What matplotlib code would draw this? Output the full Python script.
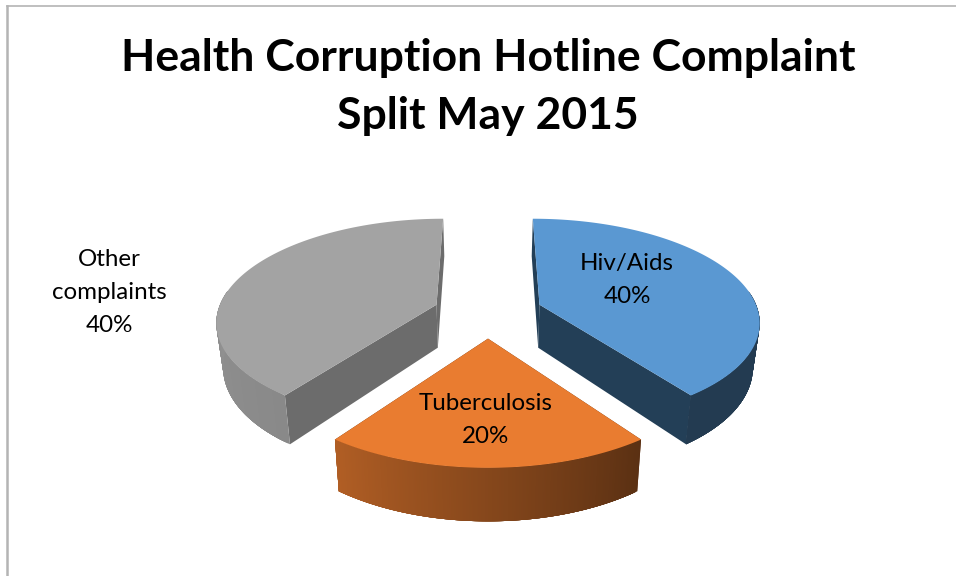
import numpy as np
import matplotlib.pyplot as plt

plt.rcParams["font.family"] = ["Lato", "DejaVu Sans"]

# Chart data (slices go clockwise from 12 o'clock)
categories = ["Hiv/Aids", "Tuberculosis", "Other\ncomplaints"]
shares = [40, 20, 40]

colors = ["#5A98D2", "#E97C30", "#A3A3A3"]
face_colors = ["#233F57", "#5B2E11", "#6C6C6C"]
# wall brightness at the start and end of each slice's outer arc
wall_shade = [(0.385, 0.385), (0.39, 0.76), (0.84, 0.97)]
label_pos = [(627, 280), (486, 420), (109, 292.5)]

# Fake 3D camera, in pixels
CX, CY = 488, 312.4
SCALE_X, SCALE_Y = 219, 101
PERSP = 0.15
EXPLODE = 0.25
DEPTH = 43.5
BASE_SHRINK = 0.975


def project(px, py, base=False):
    w = 1 + PERSP * py
    x = SCALE_X * px / w
    y = -SCALE_Y * py / w
    if base:
        return CX + x * BASE_SHRINK, CY + y + DEPTH / w
    return CX + x, CY + y


def shade(color, factor):
    rgb = np.array(plt.matplotlib.colors.to_rgb(color))
    return tuple(rgb * factor)


def draw_slice(ax, start, end, color, face_color, shades):
    mid = (start + end) / 2
    ox, oy = EXPLODE * np.sin(mid), EXPLODE * np.cos(mid)
    theta = np.linspace(start, end, 240)
    arc_x = ox + np.sin(theta)
    arc_y = oy + np.cos(theta)

    # radial cut faces first, they end up behind everything else
    for t in (start, end):
        px = np.array([ox, ox + np.sin(t)])
        py = np.array([oy, oy + np.cos(t)])
        tx, ty = project(px, py)
        bx, by = project(px, py, base=True)
        ax.fill(np.r_[tx, bx[::-1]], np.r_[ty, by[::-1]], color=face_color, lw=0, zorder=1)

    # outer wall, cut in strips to get the gradient; strips overlap so no seams show
    tx, ty = project(arc_x, arc_y)
    bx, by = project(arc_x, arc_y, base=True)
    front = np.where(np.cos(theta) < 0.15)[0]
    last = front[-1]
    for i in front:
        frac = (theta[i] - start) / (end - start)
        c = shade(color, shades[0] + (shades[1] - shades[0]) * frac)
        j = min(i + 6, last)
        if j == i:
            continue
        sx = np.r_[tx[i:j + 1], bx[i:j + 1][::-1]]
        sy = np.r_[ty[i:j + 1], by[i:j + 1][::-1]]
        ax.fill(sx, sy, color=c, lw=0, zorder=2)

    # top surface
    ax.fill(*project(np.r_[ox, arc_x], np.r_[oy, arc_y]), color=color, lw=0, zorder=3)


fig = plt.figure(figsize=(9.56, 5.76), dpi=100)
ax = fig.add_axes([0, 0, 1, 1])
ax.set_xlim(0, 956)
ax.set_ylim(576, 0)
ax.axis("off")

# Frame of the original picture, only top and left show
ax.plot([7.5, 956], [5.5, 5.5], color="#B4B4B4", lw=1.2)
ax.plot([7.5, 7.5], [5.5, 576], color="#B4B4B4", lw=1.8)

edges = np.r_[0, np.cumsum(shares)] / np.sum(shares) * 2 * np.pi
for i, name in enumerate(categories):
    draw_slice(ax, edges[i], edges[i + 1], colors[i], face_colors[i], wall_shade[i])
    x, y = label_pos[i]
    ax.text(x, y, f"{name}\n{shares[i]}%", ha="center", va="center", fontsize=17.4,
            color="black", linespacing=1.7, zorder=5)

ax.text(488, 58, "Health Corruption Hotline Complaint", ha="center", va="center",
        fontsize=32, fontweight="bold", color="black")
ax.text(488, 116, "Split May 2015", ha="center", va="center",
        fontsize=32, fontweight="bold", color="black")

fig.savefig("out.png", dpi=100)
